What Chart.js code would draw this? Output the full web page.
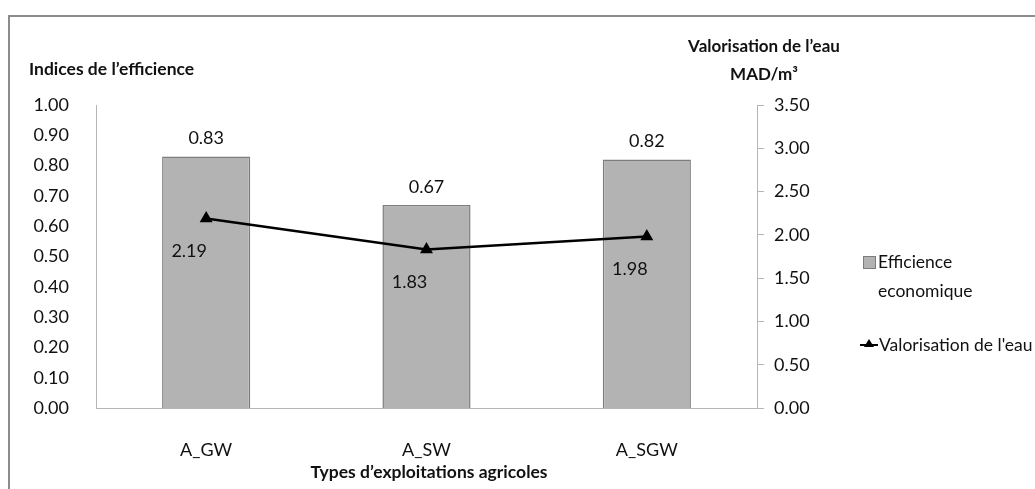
<!DOCTYPE html>
<html>
<head>
<meta charset="utf-8">
<script src="https://cdn.jsdelivr.net/npm/chart.js@4/dist/chart.umd.min.js"></script>
<style>
  html, body { margin: 0; padding: 0; background: #fff; overflow: hidden; }
  #wrap { position: relative; width: 1035px; height: 489px; }
  #frame {
    position: absolute; left: 8px; top: 15px;
    width: 1100px; height: 600px;
    border: 2px solid #8c8c8c; box-sizing: border-box;
  }
  canvas { position: absolute; left: 0; top: 0; }
</style>
</head>
<body>
<div id="wrap">
  <div id="frame"></div>
  <canvas id="chart" width="1035" height="489"></canvas>
</div>
<script>
const categories = ['A_GW', 'A_SW', 'A_SGW'];
const efficience = [0.83, 0.67, 0.82];
const valorisation = [2.19, 1.83, 1.98];
const leftTicks = [0, 1, 0.1];      // min, max, step
const rightTicks = [0, 3.5, 0.5];

const FONT = 'Lato, "Open Sans", sans-serif';
const BAR_FILL = '#b3b3b3';
const BAR_EDGE = '#7d7d7d';

// Titles, legend and value labels drawn on top of the chart
const annotations = {
  id: 'annotations',
  afterDatasetsDraw(chart) {
    const ctx = chart.ctx;
    ctx.save();
    ctx.fillStyle = '#111';
    ctx.textBaseline = 'middle';

    // bar value labels
    ctx.font = '18px ' + FONT;
    ctx.textAlign = 'center';
    chart.getDatasetMeta(0).data.forEach((bar, i) => {
      ctx.fillText(efficience[i].toFixed(2), bar.x, bar.y - 18);
    });
    // line value labels, below-left of the markers
    chart.getDatasetMeta(1).data.forEach((pt, i) => {
      ctx.fillText(valorisation[i].toFixed(2), pt.x - 17, pt.y + 33);
    });

    // axis titles
    ctx.font = 'bold 17.5px ' + FONT;
    ctx.textAlign = 'left';
    ctx.fillText('Indices de l\u2019efficience', 29, 69);
    ctx.textAlign = 'center';
    ctx.fillText('Types d\u2019exploitations agricoles', 429, 472);
    ctx.font = 'bold 17px ' + FONT;
    ctx.fillText('Valorisation de l\u2019eau', 764, 47);
    ctx.fillText('MAD/m\u00b3', 764, 75);

    // legend
    ctx.fillStyle = BAR_FILL;
    ctx.strokeStyle = BAR_EDGE;
    ctx.lineWidth = 1;
    ctx.fillRect(863, 256, 13, 13);
    ctx.strokeRect(863.5, 256.5, 12, 12);
    ctx.strokeStyle = '#000';
    ctx.lineWidth = 2;
    ctx.beginPath();
    ctx.moveTo(860, 345);
    ctx.lineTo(878, 345);
    ctx.stroke();
    ctx.fillStyle = '#000';
    ctx.beginPath();
    ctx.moveTo(869, 339);
    ctx.lineTo(874, 347);
    ctx.lineTo(864, 347);
    ctx.closePath();
    ctx.fill();

    ctx.fillStyle = '#111';
    ctx.font = '17.5px ' + FONT;
    ctx.textAlign = 'left';
    ctx.fillText('Efficience', 878, 262);
    ctx.fillText('economique', 878, 291);
    ctx.fillText('Valorisation de l\'eau', 879, 345);
    ctx.restore();
  }
};

new Chart(document.getElementById('chart'), {
  type: 'bar',
  data: {
    labels: categories,
    datasets: [
      {
        label: 'Efficience economique',
        data: efficience,
        yAxisID: 'y',
        backgroundColor: BAR_FILL,
        borderColor: BAR_EDGE,
        borderWidth: 1.5,
        barPercentage: 0.4,
        categoryPercentage: 1,
        order: 2
      },
      {
        type: 'line',
        label: 'Valorisation de l\'eau',
        data: valorisation,
        yAxisID: 'y1',
        borderColor: '#000',
        backgroundColor: '#000',
        borderWidth: 2.5,
        pointStyle: 'triangle',
        pointRadius: 5,
        tension: 0,
        order: 1
      }
    ]
  },
  options: {
    responsive: false,
    animation: false,
    layout: { padding: { top: 105, right: 0, left: 0, bottom: 0 } },
    plugins: {
      legend: { display: false },
      tooltip: { enabled: false }
    },
    scales: {
      x: {
        offset: true,
        grid: { display: false },
        border: { display: true, color: '#b5b5b5' },
        ticks: { padding: 23, color: '#111', font: { family: FONT, size: 18 } },
        afterFit: s => { s.height = 81; }
      },
      y: {
        position: 'left',
        min: leftTicks[0],
        max: leftTicks[1],
        grid: { display: false },
        border: { display: true, color: '#b5b5b5' },
        ticks: {
          stepSize: leftTicks[2],
          padding: 19,
          color: '#111',
          font: { family: FONT, size: 18 },
          callback: v => v.toFixed(2)
        },
        afterFit: s => { s.width = 96; }
      },
      y1: {
        position: 'right',
        min: rightTicks[0],
        max: rightTicks[1],
        grid: { drawOnChartArea: false, drawTicks: true, tickLength: 7, color: '#b5b5b5' },
        border: { display: true, color: '#b5b5b5' },
        ticks: {
          stepSize: rightTicks[2],
          padding: 10,
          color: '#111',
          font: { family: FONT, size: 18 },
          callback: v => v.toFixed(2)
        },
        afterFit: s => { s.width = 1035 - 757; }
      }
    }
  },
  plugins: [annotations]
});
</script>
</body>
</html>
